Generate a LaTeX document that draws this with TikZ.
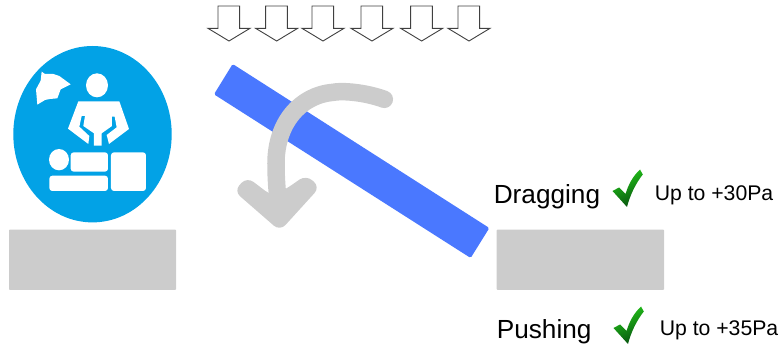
\documentclass[tikz,border=0pt]{standalone}
\usepackage{fontspec}
\setmainfont{Liberation Sans}
\definecolor{skyblue}{HTML}{02A2E6}
\definecolor{barblue}{HTML}{4A78FF}
\definecolor{softgrey}{HTML}{CCCCCC}
\definecolor{outlinegrey}{HTML}{404040}
\definecolor{checktop}{HTML}{24C81A}
\definecolor{checkbottom}{HTML}{07520F}
\tikzset{
  greyblock/.style={fill=softgrey,rounded corners=0.8pt},
  whiteshape/.style={fill=white,rounded corners=3pt},
  downarrow/.style={draw=outlinegrey,line width=0.9pt,fill=white,line join=miter},
  turnarrow/.style={draw=softgrey,line width=17.5pt,line cap=round,line join=round},
  turnhead/.style={fill=softgrey,rounded corners=8pt},
  checkmark/.style={top color=checktop,bottom color=checkbottom,shading angle=25},
  bigtext/.style={font=\fontsize{26.2}{28}\selectfont,anchor=base west,inner sep=0pt,text=black},
  smalltext/.style={font=\fontsize{21.2}{24}\selectfont,anchor=base west,inner sep=0pt,text=black},
}
\newcommand{\checkglyph}{(612.5,191) -- (619,187.5) -- (625.5,194) .. controls (628,186) and (632,177) .. (640,169.5) -- (642.8,174.5) .. controls (636,183) and (630,195) .. (627,207) -- cycle}
\begin{document}
\begin{tikzpicture}[x=1pt,y=-1pt]
\useasboundingbox (0,0) rectangle (782,347);
% grey supports
\fill[greyblock] (9,229.7) rectangle (176,290);
\fill[greyblock] (496.7,229.7) rectangle (664,289.8);
% icon
\fill[skyblue] (92.5,134.2) ellipse [x radius=79.2,y radius=88.2];
\begin{scope}[x=0.33333pt,y=-0.33333pt,shift={(0,90)}]
  \fill[white] (125,125) -- (135,132) -- (160,132) -- (178,138) -- (212,163) -- (182,178) -- (172,205) -- (150,207) -- (135,210) -- (112,224) -- (108,178) -- (122,152) -- cycle;
  \fill[white] (291,166) ellipse [x radius=33,y radius=36];
  \fill[white] (235,214) -- (358,214) -- (387,297) -- (327,342) -- (320,315) -- (350,292) -- (344,260) -- (336,260) -- (336,288) -- (305,310) -- (305,347) -- (282,347) -- (282,310) -- (250,288) -- (255,258) -- (245,258) -- (238,290) -- (268,318) -- (265,342) -- (204,296) -- cycle;
  \fill[white] (177,389) ellipse [x radius=30,y radius=32];
  \fill[whiteshape] (212,367) rectangle (324,425);
  \fill[whiteshape] (148,437) rectangle (324,483);
  \fill[whiteshape] (333,367) rectangle (438,483);
\end{scope}
% wind arrows and bar
\begin{scope}[x=0.33333pt,y=-0.33333pt,shift={(600,0)}]
  \foreach \cx in {87,230,369,516,665,807}{
    \draw[downarrow,shift={(\cx,0)}] (-33,18) -- (32,18) -- (32,85) -- (63,85) -- (0,123) -- (-63,85) -- (-33,85) -- cycle;
  }
  \fill[barblue,rounded corners=1.5pt] (98,192) -- (868,684) -- (812,774) -- (42,283) -- cycle;
  \coordinate (turnstart) at (553,298);
  \coordinate (turnmid) at (228,490);
  \coordinate (turnend) at (238,620);
  \draw[turnarrow] (turnstart) .. controls (490,275) and (420,272) .. (400,277) .. controls (300,285) and (228,370) .. (turnmid) .. controls (228,540) and (232,590) .. (turnend);
\end{scope}
\fill[turnhead] (272,196) -- (247,177) -- (234,191) -- (280,231) -- (320,187) -- (306,175) -- (286,189) -- cycle;
% text
\node[bigtext] (dragging) at (493.6,204) {Dragging};
\node[smalltext] (limitdrag) at (654.6,200.7) {Up to +30Pa};
\node[bigtext] (pushing) at (496.6,338) {Pushing};
\node[smalltext] (limitpush) at (659.6,335.7) {Up to +35Pa};
% check marks
\shade[checkmark] \checkglyph;
\begin{scope}[shift={(1,137)}]
  \shade[checkmark] \checkglyph;
\end{scope}
\end{tikzpicture}
\end{document}
